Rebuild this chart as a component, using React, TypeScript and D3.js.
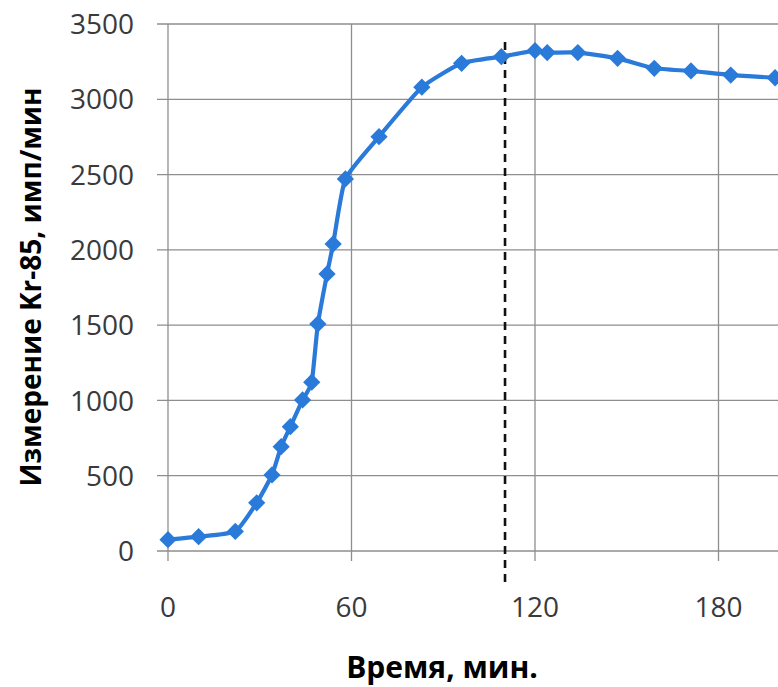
import { useEffect, useRef } from 'react';
import * as d3 from 'd3';

// Kr-85 measurement vs time
const timeMin = [0, 10, 22, 29, 34, 37, 40, 44, 47, 49, 52, 54, 58, 69, 83, 96, 109, 120, 124, 134, 147, 159, 171, 184, 198.5];
const countsPerMin = [75, 95, 130, 320, 505, 693, 826, 1003, 1121, 1508, 1840, 2039, 2471, 2752, 3080, 3239, 3283, 3323, 3310, 3310, 3272, 3206, 3188, 3161, 3143];
const yTicks = [0, 500, 1000, 1500, 2000, 2500, 3000, 3500];
const xTicks = [0, 60, 120, 180];
const markerTime = 110.2;

const xTitle = 'Время, мин.';
const yTitle = 'Измерение Kr-85, имп/мин';

const W = 778;
const H = 687;

export default function App() {
  const svgRef = useRef<SVGSVGElement>(null);

  useEffect(() => {
    if (!svgRef.current) return;
    const svg = d3.select(svgRef.current);
    svg.selectAll('*').remove();

    const x = d3.scaleLinear().domain([0, 180]).range([168, 718.5]);
    const y = d3.scaleLinear().domain([0, 3500]).range([551, 24]);
    const plotLeft = 157;
    const plotRight = W + 5;

    const grid = svg.append('g');
    // horizontal gridlines
    grid.selectAll('line.h')
      .data(yTicks)
      .join('line')
      .attr('x1', plotLeft)
      .attr('x2', plotRight)
      .attr('y1', d => y(d))
      .attr('y2', d => y(d))
      .attr('stroke', '#8e8e8e')
      .attr('stroke-width', 1.3);
    // vertical gridlines (with tick below the axis)
    grid.selectAll('line.v')
      .data(xTicks)
      .join('line')
      .attr('x1', d => x(d))
      .attr('x2', d => x(d))
      .attr('y1', y(3500))
      .attr('y2', y(0) + 10)
      .attr('stroke', '#8e8e8e')
      .attr('stroke-width', 1.3);

    // tick labels
    svg.append('g')
      .selectAll('text')
      .data(yTicks)
      .join('text')
      .attr('x', 134)
      .attr('y', d => y(d))
      .attr('dy', '0.36em')
      .attr('text-anchor', 'end')
      .attr('font-family', '"Open Sans", sans-serif')
      .attr('font-size', '28px')
      .attr('fill', '#3a3a3a')
      .text(d => d);

    svg.append('g')
      .selectAll('text')
      .data(xTicks)
      .join('text')
      .attr('x', d => x(d))
      .attr('y', 617)
      .attr('text-anchor', 'middle')
      .attr('font-family', '"Open Sans", sans-serif')
      .attr('font-size', '28px')
      .attr('fill', '#3a3a3a')
      .text(d => d);

    // dashed marker line
    svg.append('line')
      .attr('x1', x(markerTime))
      .attr('x2', x(markerTime))
      .attr('y1', 42)
      .attr('y2', 585)
      .attr('stroke', '#111')
      .attr('stroke-width', 2.6)
      .attr('stroke-dasharray', '8,6');

    const pts: [number, number][] = timeMin.map((t, i) => [t, countsPerMin[i]]);
    const line = d3.line<[number, number]>()
      .x(d => x(d[0]))
      .y(d => y(d[1]))
      .curve(d3.curveCardinal.tension(0.5));

    svg.append('path')
      .datum(pts)
      .attr('d', line)
      .attr('fill', 'none')
      .attr('stroke', '#2a7ad9')
      .attr('stroke-width', 4.2)
      .attr('stroke-linejoin', 'round');

    const symbol = d3.symbol().type(d3.symbolDiamond2).size(190);
    svg.append('g')
      .selectAll('path')
      .data(pts)
      .join('path')
      .attr('transform', d => `translate(${x(d[0])},${y(d[1])})`)
      .attr('d', symbol as any)
      .attr('fill', '#2a7ad9');

    // axis titles
    svg.append('text')
      .attr('x', 442)
      .attr('y', 678)
      .attr('text-anchor', 'middle')
      .attr('font-family', '"Open Sans", sans-serif')
      .attr('font-weight', 'bold')
      .attr('font-size', '30px')
      .attr('fill', '#000')
      .text(xTitle);

    svg.append('text')
      .attr('transform', 'translate(41, 287) rotate(-90)')
      .attr('text-anchor', 'middle')
      .attr('font-family', '"Open Sans", sans-serif')
      .attr('font-weight', 'bold')
      .attr('font-size', '28px')
      .attr('fill', '#000')
      .text(yTitle);
  }, []);

  return (
    <svg
      ref={svgRef}
      width={W}
      height={H}
      style={{ position: 'absolute', left: 0, top: 0, background: '#fff' }}
    />
  );
}
